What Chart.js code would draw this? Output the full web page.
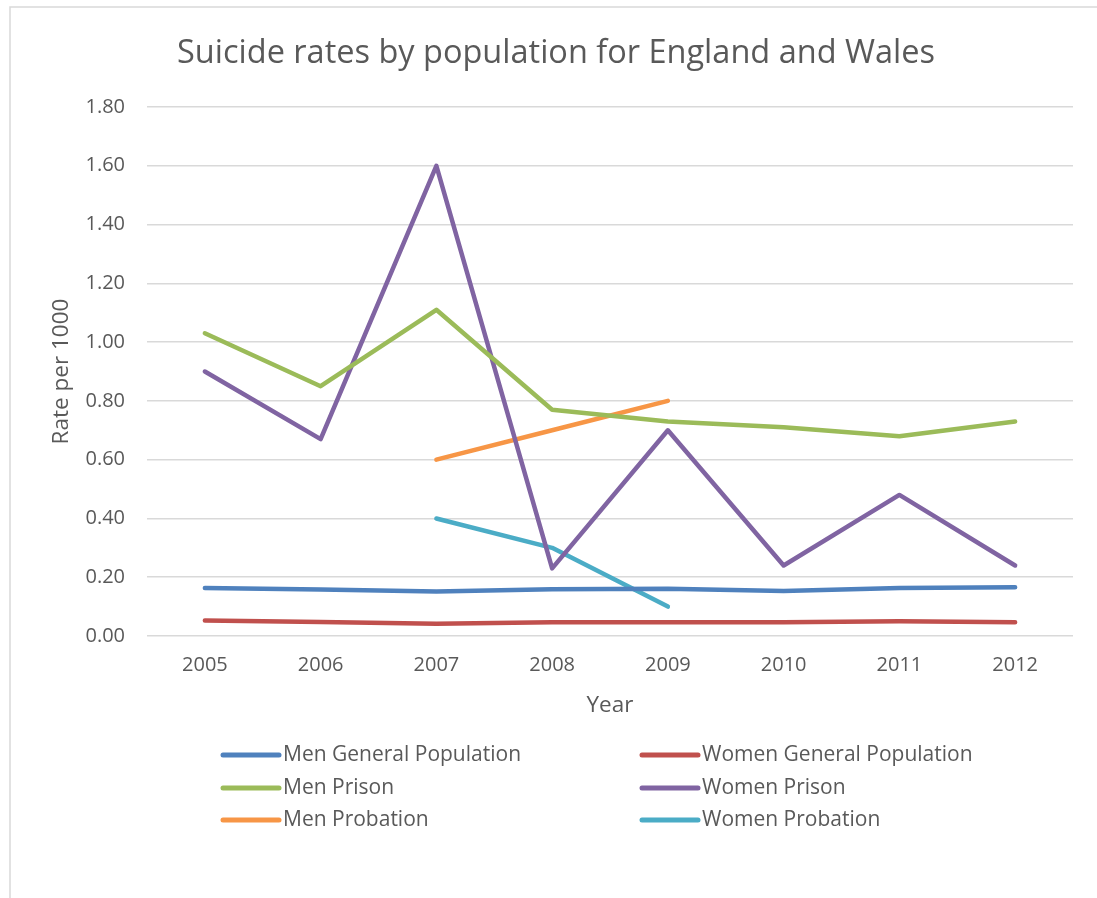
<!DOCTYPE html>
<html>
<head>
<meta charset="utf-8">
<script src="https://cdn.jsdelivr.net/npm/chart.js@4.4.1/dist/chart.umd.min.js"></script>
<style>
  html, body { margin: 0; padding: 0; background: #fff; }
  #wrap { position: relative; width: 1097px; height: 898px; }
</style>
</head>
<body>
<div id="wrap"><canvas id="c" width="1097" height="898"></canvas></div>
<script>
const years = ['2005', '2006', '2007', '2008', '2009', '2010', '2011', '2012'];
const menGeneral = [0.163, 0.158, 0.151, 0.159, 0.161, 0.153, 0.163, 0.166];
const womenGeneral = [0.053, 0.048, 0.042, 0.047, 0.047, 0.047, 0.050, 0.047];
const menPrison = [1.03, 0.85, 1.11, 0.77, 0.73, 0.71, 0.68, 0.73];
const womenPrison = [0.90, 0.67, 1.60, 0.23, 0.70, 0.24, 0.48, 0.24];
const menProbation = [null, null, 0.60, 0.70, 0.80, null, null, null];
const womenProbation = [null, null, 0.40, 0.30, 0.10, null, null, null];
const seriesNames = ['Men General Population', 'Women General Population', 'Men Prison', 'Women Prison', 'Men Probation', 'Women Probation'];
const seriesColors = ['#4F81BD', '#C0504D', '#9BBB59', '#8064A2', '#F79646', '#4BACC6'];
const seriesValues = [menGeneral, womenGeneral, menPrison, womenPrison, menProbation, womenProbation];

const FONT = '"Open Sans", "Noto Sans", sans-serif';
const TEXT = '#595959';

const datasets = seriesNames.map((name, i) => ({
  label: name,
  data: seriesValues[i],
  borderColor: seriesColors[i],
  backgroundColor: seriesColors[i],
  borderWidth: 4.5,
  pointRadius: 0,
  pointHoverRadius: 0,
  tension: 0,
  fill: false,
  borderCapStyle: 'round',
  borderJoinStyle: 'round'
}));

const frameAndLegend = {
  id: 'frameAndLegend',
  beforeDraw(chart) {
    const ctx = chart.ctx;
    ctx.save();
    ctx.strokeStyle = '#d9d9d9';
    ctx.lineWidth = 1.5;
    ctx.strokeRect(10, 7, 1200, 1000);
    ctx.restore();
  },
  afterDraw(chart) {
    const ctx = chart.ctx;
    const colX = [223, 642];
    const rowY = [755, 788, 820];
    ctx.save();
    ctx.font = '21px ' + FONT;
    ctx.textBaseline = 'middle';
    ctx.textAlign = 'left';
    chart.data.datasets.forEach((ds, i) => {
      const x = colX[i % 2];
      const y = rowY[Math.floor(i / 2)];
      ctx.strokeStyle = ds.borderColor;
      ctx.lineWidth = 5;
      ctx.lineCap = 'round';
      ctx.beginPath();
      ctx.moveTo(x, y);
      ctx.lineTo(x + 56, y);
      ctx.stroke();
      ctx.fillStyle = TEXT;
      ctx.fillText(ds.label, x + 60, y);
    });
    ctx.restore();
  }
};

new Chart(document.getElementById('c'), {
  type: 'line',
  data: { labels: years, datasets },
  plugins: [frameAndLegend],
  options: {
    responsive: false,
    animation: false,
    events: [],
    layout: { padding: { left: 39, right: 24, top: 0, bottom: 172 } },
    plugins: {
      legend: { display: false },
      tooltip: { enabled: false },
      title: {
        display: true,
        text: 'Suicide rates by population for England and Wales',
        color: TEXT,
        font: { family: FONT, size: 32.5, weight: 'normal', lineHeight: 1.2 },
        padding: { top: 34, bottom: 34 }
      }
    },
    scales: {
      x: {
        offset: true,
        grid: { display: false, drawTicks: false },
        border: { display: false },
        ticks: { color: TEXT, font: { family: FONT, size: 20 }, padding: 17, maxRotation: 0 },
        title: { display: true, text: 'Year', color: TEXT, font: { family: FONT, size: 22.5 }, padding: { top: 0, bottom: 7 } },
        afterFit(scale) { scale.height = 90; }
      },
      y: {
        min: 0,
        max: 1.8,
        ticks: {
          stepSize: 0.2,
          color: TEXT,
          font: { family: FONT, size: 20 },
          padding: 22,
          callback: (v) => Number(v).toFixed(2)
        },
        grid: { color: '#d9d9d9', lineWidth: 1.5, drawTicks: false },
        border: { display: false },
        title: { display: true, text: 'Rate per 1000', color: TEXT, font: { family: FONT, size: 22.5 }, padding: { top: 9.5, bottom: 0 } },
        afterFit(scale) { scale.width = 108; }
      }
    }
  }
});
</script>
</body>
</html>
